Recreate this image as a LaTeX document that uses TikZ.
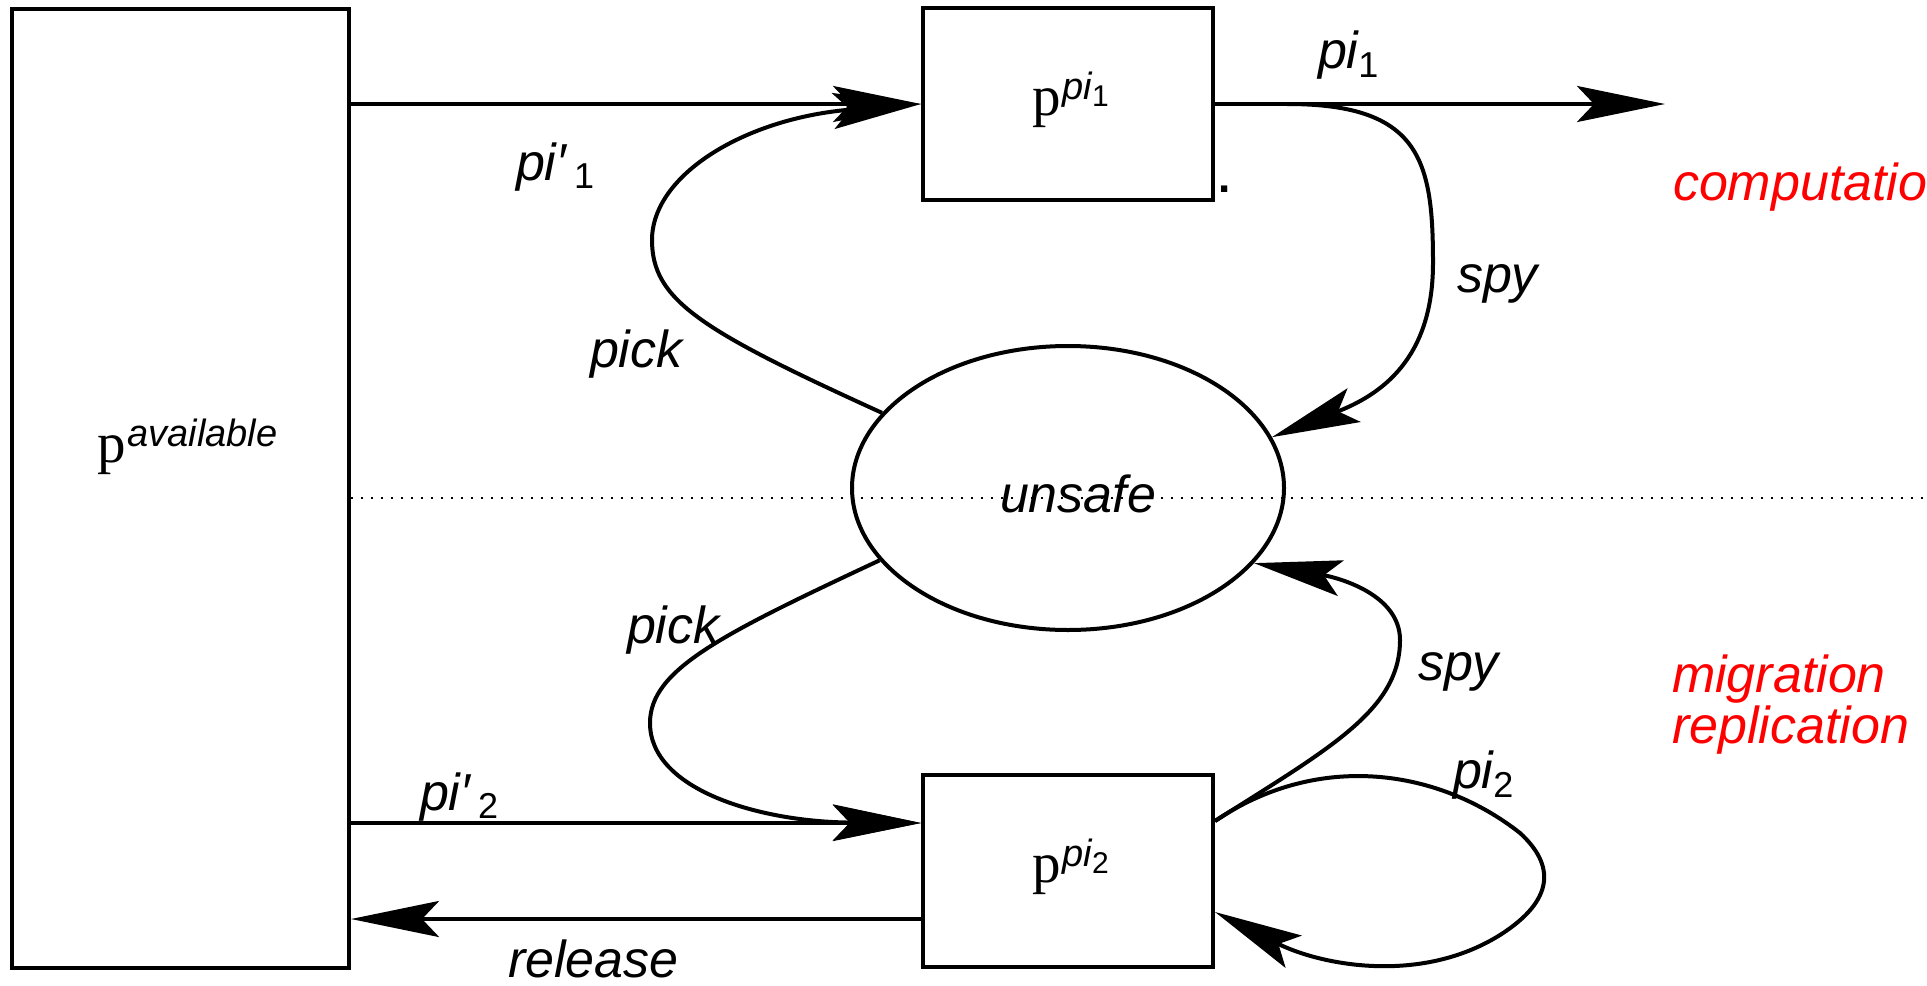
\documentclass[tikz,border=0pt]{standalone}
\usepackage{fontspec}
\setmainfont{Liberation Sans}
\newfontfamily\serp{Liberation Serif}
\usetikzlibrary{arrows.meta,shapes.geometric,calc}

% label text: italic sans, numeric indices upright and lowered
\newcommand\lbl{\fontsize{52}{60}\selectfont\itshape}
\newcommand\idx[2]{\raisebox{#1}{\upshape\fontsize{36}{40}\selectfont #2}}
% resource symbol: serif p with a sans italic superscript
\newcommand\res[1]{{\serp\fontsize{57}{60}\selectfont p}\hspace{2pt}\raisebox{16pt}{\fontsize{38}{40}\selectfont\itshape #1}}

\tikzset{
  box/.style={draw, line width=4pt, inner sep=0pt},
  state/.style={draw, ellipse, line width=4pt, inner sep=0pt,
                minimum width=432pt, minimum height=284pt},
  txt/.style={anchor=base west, inner sep=0pt, outer sep=0pt},
  zone/.style={txt, text=red},
  arr/.style={line width=4pt,
              -{Stealth[length=88pt, width=36pt, inset=17pt]}},
  sep/.style={line width=1.5pt, dash pattern=on 1.5pt off 8.5pt}
}

\begin{document}
\begin{tikzpicture}[x=1pt, y=-1pt]
\useasboundingbox (0,0) rectangle (1927,985);

% boxes and the shared state
\node[box, minimum width=337pt, minimum height=959pt] (avail) at (180.5,488.5) {};
\node[box, minimum width=290pt, minimum height=192pt] (top) at (1068,104) {};
\node[box, minimum width=290pt, minimum height=192pt] (bot) at (1068,871) {};
\node[state] (unsafe) at (1068,488) {};

% labels inside the shapes
\node[txt] (availlab) at (97,462) {\res{available}};
\node[txt] (toplab) at (1032,115) {\res{pi\raisebox{-7pt}{\upshape\fontsize{30}{32}\selectfont 1}}};
\node[txt] (botlab) at (1032,882) {\res{pi\raisebox{-7pt}{\upshape\fontsize{30}{32}\selectfont 2}}};
\node[txt] (unsafelab) at (1000,512) {\lbl unsafe};
\node[txt] (dot) at (1218,192) {\fontsize{44}{44}\selectfont\bfseries .};

% separator between the two zones
\coordinate (sepend) at (1927,498);
\draw[sep] (avail.east |- sepend) -- (sepend);

% helper points on the box sides
\coordinate (bin)  at ($(bot.north west)+(0,50)$);
\coordinate (bout) at ($(bot.south west)+(0,-50)$);
\coordinate (out1) at (1665,104);
\coordinate (s1)   at ($(top.east)+(72,0)$);
\coordinate (s2)   at ($(bot.north east)+(0,48)$);
\coordinate (l2)   at ($(bot.south east)+(0,-57)$);

% straight transitions
\draw[arr] (avail.east |- top.west) -- (top.west);
\draw[arr] (top.east) -- (out1);
\draw[arr] (avail.east |- bin) -- (bin);
\draw[arr] (bout) -- (avail.east |- bout);

% pick: unsafe -> boxes
\draw[arr] (unsafe.158) .. controls (700,330) and (652,300) .. (652,240)
           .. controls (652,175) and (745,118) .. (top.west);
\draw[arr] (unsafe.201) .. controls (720,635) and (650,670) .. (650,723)
           .. controls (650,790) and (760,822) .. (bin);

% spy: boxes -> unsafe
\draw[arr] (s1) .. controls (1420,104) and (1433,160) .. (1433,263)
           .. controls (1433,360) and (1380,395) .. (unsafe.14);
\draw[arr] (s2) .. controls (1330,748) and (1400,710) .. (1400,640)
           .. controls (1400,595) and (1340,578) .. (unsafe.-22);

% pi2 self loop
\draw[arr] (s2) .. controls (1320,750) and (1440,770) .. (1520,833)
           .. controls (1555,865) and (1555,900) .. (1500,935)
           .. controls (1420,985) and (1320,965) .. (l2);

% transition labels
\node[txt] (lpi1p) at (516,180) {\lbl pi′\hspace{8pt}\idx{-8pt}{1}};
\node[txt] (lpi1)  at (1318,68)  {\lbl pi\idx{-9pt}{1}};
\node[txt] (lspy1) at (1457,292) {\lbl spy};
\node[txt] (lpick1) at (590,367) {\lbl pick};
\node[txt] (lpick2) at (627,643) {\lbl pick};
\node[txt] (lspy2) at (1418,680) {\lbl spy};
\node[txt] (lpi2p) at (420,810) {\lbl pi′\hspace{8pt}\idx{-8pt}{2}};
\node[txt] (lpi2)  at (1453,788) {\lbl pi\idx{-9pt}{2}};
\node[txt] (lrel)  at (508,977) {\lbl release};

% zone names
\node[zone] (zcomp) at (1673,200) {\lbl computation};
\node[zone] (zmig)  at (1672,692) {\lbl migration};
\node[zone] (zrep)  at (1672,743) {\lbl replication};
\end{tikzpicture}
\end{document}
